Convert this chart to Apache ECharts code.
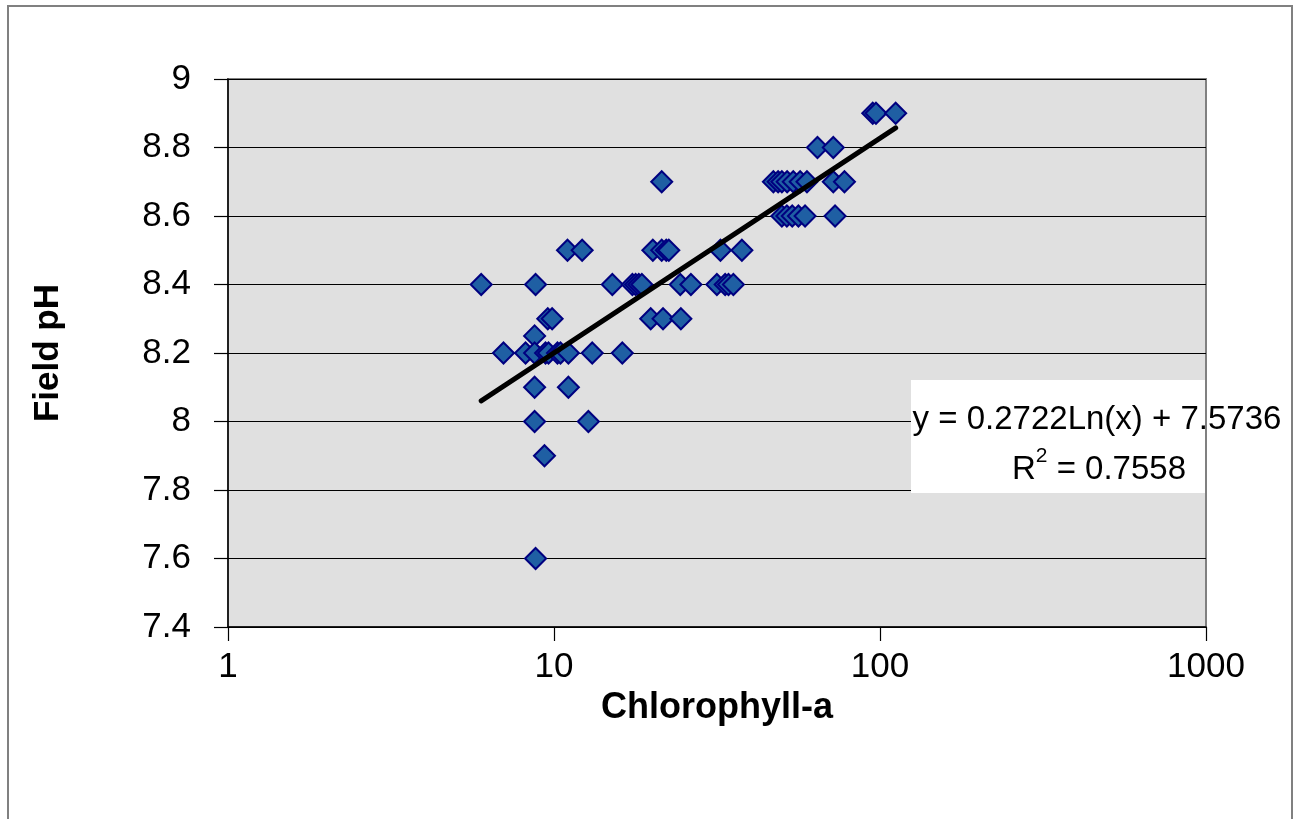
<!DOCTYPE html>
<html>
<head>
<meta charset="utf-8">
<script src="https://cdn.jsdelivr.net/npm/echarts@6/dist/echarts.min.js"></script>
<style>
  html, body { margin: 0; padding: 0; background: #fff; }
  #chart { width: 1293px; height: 819px; }
</style>
</head>
<body>
<div id="chart"></div>
<script>
// Chlorophyll-a (x) and field pH (y) samples, grouped by pH level
const chlorophyll = [
  95.0, 97.2, 111.7,
  64.3, 71.9,
  21.4, 47.1, 48.7, 50.0, 51.9, 54.2, 56.9, 59.7, 71.9, 77.8,
  50.0, 51.8, 53.8, 56.2, 58.9, 72.8,
  11.0, 12.2, 20.1, 21.4, 22.1, 22.5, 32.4, 37.7,
  5.98, 8.78, 15.1, 17.4, 17.8, 18.2, 18.6, 24.4, 26.3, 31.6, 33.5, 34.3, 35.5,
  9.57, 9.87, 19.8, 21.6, 24.5,
  8.72,
  7.0, 8.18, 8.72, 9.42, 9.62, 10.25, 10.47, 11.07, 13.1, 16.2,
  8.72, 11.07,
  8.72, 12.75,
  9.35,
  8.78
];
const fieldPH = [
  8.9, 8.9, 8.9,
  8.8, 8.8,
  8.7, 8.7, 8.7, 8.7, 8.7, 8.7, 8.7, 8.7, 8.7, 8.7,
  8.6, 8.6, 8.6, 8.6, 8.6, 8.6,
  8.5, 8.5, 8.5, 8.5, 8.5, 8.5, 8.5, 8.5,
  8.4, 8.4, 8.4, 8.4, 8.4, 8.4, 8.4, 8.4, 8.4, 8.4, 8.4, 8.4, 8.4,
  8.3, 8.3, 8.3, 8.3, 8.3,
  8.25,
  8.2, 8.2, 8.2, 8.2, 8.2, 8.2, 8.2, 8.2, 8.2, 8.2,
  8.1, 8.1,
  8.0, 8.0,
  7.9,
  7.6
];

// Logarithmic trend line: y = a * ln(x) + b
const trendA = 0.2722;
const trendB = 7.5736;
const rSquared = '0.7558';

const FONT = "'Liberation Sans', Arial, sans-serif";

const points = chlorophyll.map((x, i) => [x, fieldPH[i]]);
const xMin = Math.min(...chlorophyll);
const xMax = Math.max(...chlorophyll);
const trend = [xMin, xMax].map(x => [x, trendA * Math.log(x) + trendB]);

const chart = echarts.init(document.getElementById('chart'), null, { renderer: 'canvas' });

chart.setOption({
  backgroundColor: '#ffffff',
  animation: false,
  grid: {
    left: 228, top: 79, right: 87, bottom: 192,
    show: true,
    backgroundColor: '#e0e0e0',
    borderColor: '#808080',
    borderWidth: 2
  },
  xAxis: {
    type: 'log',
    logBase: 10,
    min: 1,
    max: 1000,
    name: 'Chlorophyll-a',
    nameLocation: 'middle',
    nameGap: 61,
    nameTextStyle: { fontFamily: FONT, fontSize: 36, fontWeight: 'bold', color: '#000' },
    axisLine: { show: true, onZero: false, lineStyle: { color: '#000', width: 1.5 } },
    axisTick: { show: true, inside: false, length: 14, lineStyle: { color: '#000', width: 1.2 } },
    minorTick: { show: false },
    axisLabel: {
      fontFamily: FONT, fontSize: 35, color: '#000', margin: 23,
      formatter: v => String(Math.round(v))
    },
    splitLine: { show: false }
  },
  yAxis: {
    type: 'value',
    min: 7.4,
    max: 9,
    interval: 0.2,
    name: 'Field pH',
    nameLocation: 'middle',
    nameRotate: 90,
    nameGap: 162,
    nameTextStyle: { fontFamily: FONT, fontSize: 35, fontWeight: 'bold', color: '#000' },
    axisLine: { show: true, lineStyle: { color: '#000', width: 1.5 } },
    axisTick: { show: true, inside: false, length: 14, lineStyle: { color: '#000', width: 1.2 } },
    axisLabel: {
      fontFamily: FONT, fontSize: 35, color: '#000', margin: 37,
      formatter: v => String(Math.round(v * 10) / 10)
    },
    splitLine: { show: true, lineStyle: { color: '#000', width: 1 } }
  },
  series: [
    {
      type: 'scatter',
      data: points,
      symbol: 'diamond',
      symbolSize: 21,
      itemStyle: { color: '#1f5fa3', borderColor: '#000080', borderWidth: 2, opacity: 1 },
      z: 2
    },
    {
      type: 'line',
      data: trend,
      showSymbol: false,
      symbol: 'none',
      lineStyle: { color: '#000', width: 5, cap: 'round' },
      z: 3
    }
  ],
  graphic: [
    {
      type: 'rect',
      shape: { x: 8, y: 6, width: 1284, height: 840 },
      style: { fill: 'none', stroke: '#808080', lineWidth: 2 },
      silent: true,
      z: 100
    },
    {
      type: 'rect',
      shape: { x: 911, y: 380, width: 378, height: 113 },
      style: { fill: '#ffffff', stroke: 'none' },
      silent: true,
      z: 50
    },
    {
      type: 'line',
      shape: { x1: 1206, y1: 380, x2: 1206, y2: 493 },
      style: { stroke: '#808080', lineWidth: 2 },
      silent: true,
      z: 51
    },
    {
      type: 'text',
      x: 1097, y: 420,
      style: {
        text: 'y = ' + trendA + 'Ln(x) + ' + trendB,
        fontFamily: FONT, fontSize: 33, fill: '#000',
        align: 'center', verticalAlign: 'middle'
      },
      silent: true,
      z: 52
    },
    {
      type: 'text',
      x: 1099, y: 466,
      style: {
        text: '{n|R}{s|2}{n| = ' + rSquared + '}',
        align: 'center', verticalAlign: 'middle',
        rich: {
          n: { fontFamily: FONT, fontSize: 33, fill: '#000', lineHeight: 40, verticalAlign: 'bottom' },
          s: { fontFamily: FONT, fontSize: 21, fill: '#000', lineHeight: 40, verticalAlign: 'top' }
        }
      },
      silent: true,
      z: 52
    }
  ]
});
</script>
</body>
</html>
